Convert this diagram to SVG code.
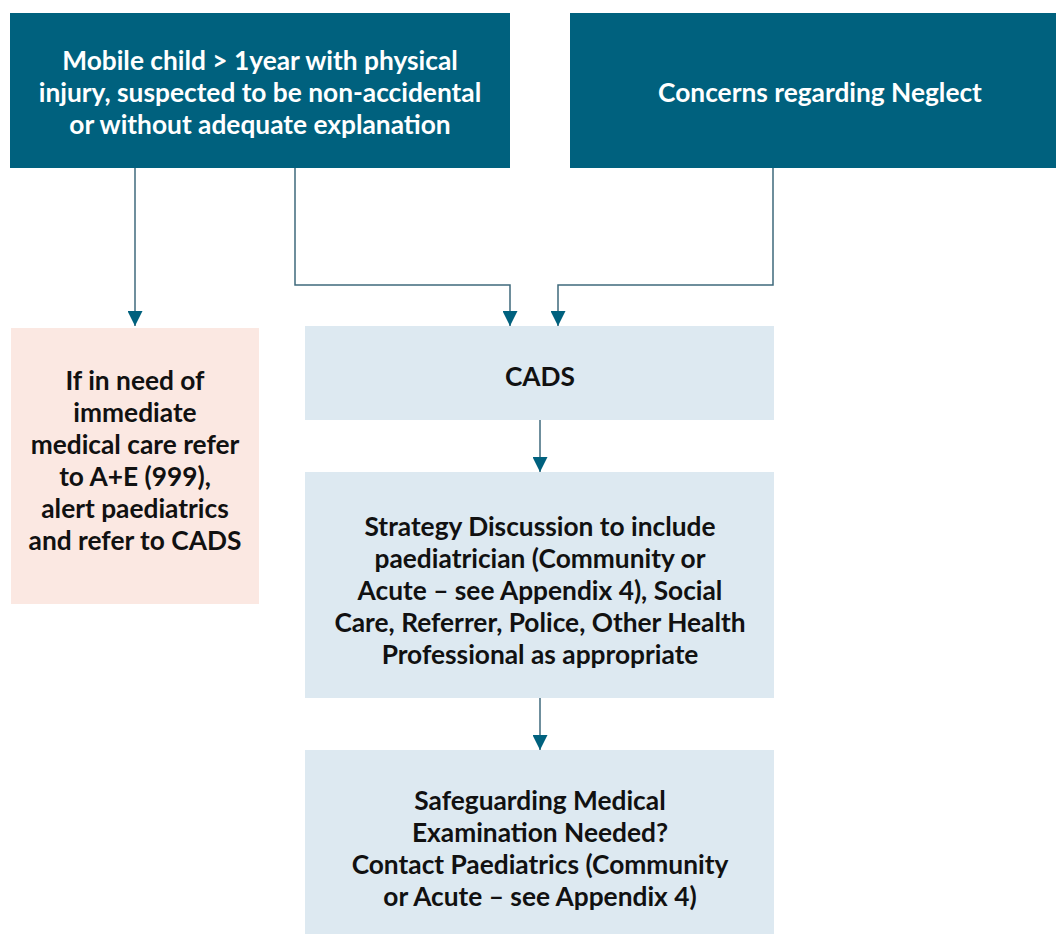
<svg xmlns="http://www.w3.org/2000/svg" width="1056" height="935" viewBox="0 0 1056 935">
<style>
.dark{fill:#00617e}
.pink{fill:#fbe8e2}
.blue{fill:#dde9f1}
text{font-family:Lato,"Liberation Sans",sans-serif;font-weight:bold;font-size:26.3px;text-anchor:middle}
.w{fill:#ffffff}
.k{fill:#111111}
.conn{fill:none;stroke:#3f6a7c;stroke-width:1.5}
</style>
<defs>
<marker id="arr" markerWidth="15" markerHeight="15" refX="15" refY="7.5" orient="auto" markerUnits="userSpaceOnUse">
<path d="M0,0 L15,7.5 L0,15 Z" fill="#00617e"/>
</marker>
</defs>
<g id="connectors">
<path class="conn" d="M135,168 V326" marker-end="url(#arr)"/>
<path class="conn" d="M295,168 V285 H510 V326" marker-end="url(#arr)"/>
<path class="conn" d="M773,168 V285 H558 V326" marker-end="url(#arr)"/>
<path class="conn" d="M540,420 V472" marker-end="url(#arr)"/>
<path class="conn" d="M540,698 V750" marker-end="url(#arr)"/>
</g>
<g id="node-mobile">
<rect class="dark" x="10" y="13" width="500" height="155"/>
<text class="w" x="260" y="70">Mobile child &gt; 1year with physical</text>
<text class="w" x="260" y="102">injury, suspected to be non-accidental</text>
<text class="w" x="260" y="134">or without adequate explanation</text>
</g>
<g id="node-neglect">
<rect class="dark" x="570" y="13" width="486" height="155"/>
<text class="w" x="820" y="102">Concerns regarding Neglect</text>
</g>
<g id="node-immediate">
<rect class="pink" x="11" y="328" width="248" height="276"/>
<text class="k" x="135" y="390">If in need of</text>
<text class="k" x="135" y="422">immediate</text>
<text class="k" x="135" y="454">medical care refer</text>
<text class="k" x="135" y="486">to A+E (999),</text>
<text class="k" x="135" y="518">alert paediatrics</text>
<text class="k" x="135" y="550">and refer to CADS</text>
</g>
<g id="node-cads">
<rect class="blue" x="305" y="326" width="469" height="94"/>
<text class="k" x="540" y="386">CADS</text>
</g>
<g id="node-strategy">
<rect class="blue" x="305" y="472" width="469" height="226"/>
<text class="k" x="540" y="536">Strategy Discussion to include</text>
<text class="k" x="540" y="568">paediatrician (Community or</text>
<text class="k" x="540" y="600">Acute – see Appendix 4), Social</text>
<text class="k" x="540" y="632">Care, Referrer, Police, Other Health</text>
<text class="k" x="540" y="664">Professional as appropriate</text>
</g>
<g id="node-safeguarding">
<rect class="blue" x="305" y="750" width="469" height="184"/>
<text class="k" x="540" y="810">Safeguarding Medical</text>
<text class="k" x="540" y="842">Examination Needed?</text>
<text class="k" x="540" y="874">Contact Paediatrics (Community</text>
<text class="k" x="540" y="906">or Acute – see Appendix 4)</text>
</g>
</svg>
